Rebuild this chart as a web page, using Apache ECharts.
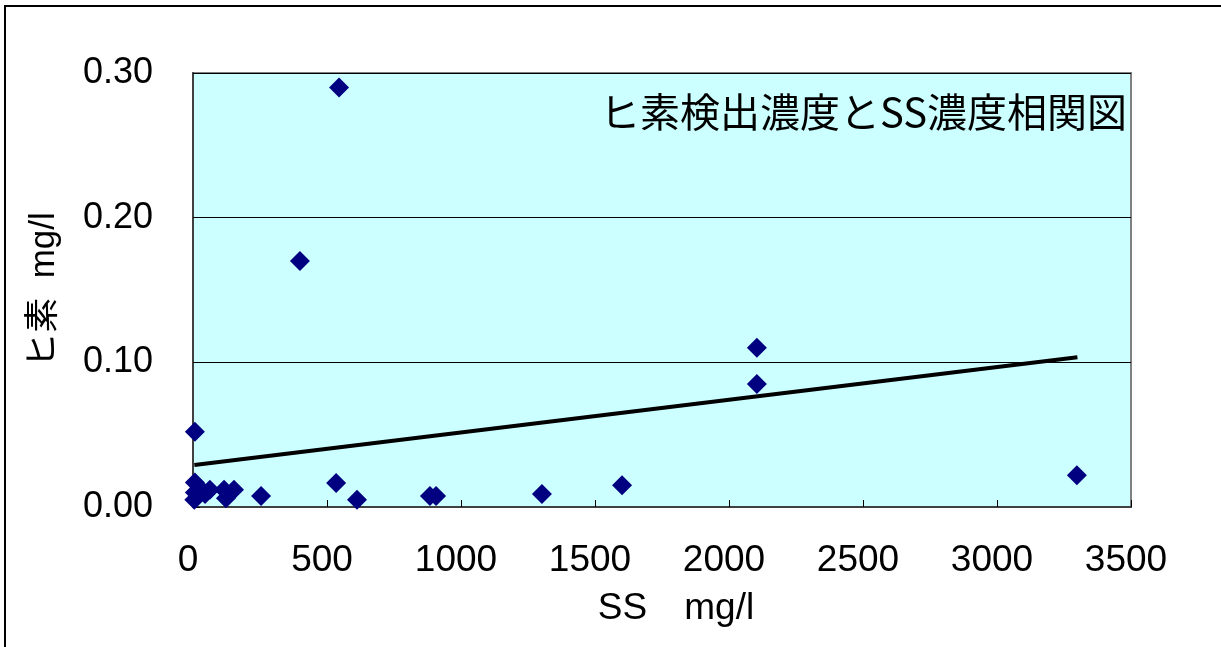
<!DOCTYPE html>
<html><head><meta charset="utf-8">
<script src="https://cdn.jsdelivr.net/npm/echarts@6/dist/echarts.min.js"></script>
<style>html,body{margin:0;padding:0;background:#fff}#c{width:1221px;height:647px}</style>
</head><body><div id="c"></div>
<script>
const ssValues = [545, 399, 2104, 2104, 7, 3298, 1601, 1302, 884, 907, 612, 534, 254, 7, 7, 5, 26, 45, 63, 116, 153, 123];
const arsenicValues = [0.290, 0.170, 0.110, 0.085, 0.052, 0.022, 0.015, 0.009, 0.0076, 0.0076, 0.005, 0.0166, 0.0076, 0.017, 0.010, 0.005, 0.013, 0.009, 0.012, 0.012, 0.012, 0.006];
const trendX = [5, 3300];
const trendY = [0.029, 0.1035];
const xTicks = [0, 500, 1000, 1500, 2000, 2500, 3000, 3500];
const yTicks = [0, 0.1, 0.2, 0.3];
const titleText = 'ヒ素検出濃度とSS濃度相関図';
const xName = 'SS　mg/l';
const yName = 'ヒ素  mg/l';

const pts = ssValues.map((x, i) => [x, arsenicValues[i]]);
const trend = trendX.map((x, i) => [x, trendY[i]]);
const font = '"Liberation Sans", Arial, "Noto Sans CJK JP", sans-serif';
const chart = echarts.init(document.getElementById('c'));
chart.setOption({
  animation: false,
  textStyle: {fontFamily: font},
  graphic: [
    {type: 'rect', shape: {x: 5, y: 6, width: 1240, height: 700}, style: {fill: 'none', stroke: '#000', lineWidth: 2}, z: 100},
    {type: 'text', right: 94, top: 92, style: {text: titleText, font: '40px "Noto Sans CJK JP", sans-serif', fill: '#000'}, z: 100}
  ],
  grid: {left: 193, right: 90, top: 73, bottom: 140, show: true, backgroundColor: '#CCFFFF', borderColor: '#808080', borderWidth: 2},
  xAxis: {
    type: 'value', min: xTicks[0], max: xTicks[xTicks.length - 1], interval: 500,
    name: xName, nameLocation: 'middle', nameGap: 83,
    nameTextStyle: {fontSize: 37, color: '#000', fontFamily: font, padding: [0, 0, 0, 28]},
    axisLine: {show: true, onZero: false, lineStyle: {color: '#404040', width: 2}},
    axisTick: {show: true, inside: true, length: 7, lineStyle: {color: '#000', width: 1}},
    axisLabel: {fontSize: 37, color: '#000', margin: 35, fontFamily: font, padding: [0, 10, 0, 0], formatter: v => String(v)},
    splitLine: {show: false}
  },
  yAxis: {
    type: 'value', min: yTicks[0], max: yTicks[yTicks.length - 1], interval: 0.1,
    name: yName, nameLocation: 'middle', nameGap: 131, nameRotate: 90,
    nameTextStyle: {fontSize: 35, color: '#000', fontFamily: font},
    axisLine: {show: true, lineStyle: {color: '#404040', width: 2}},
    axisTick: {show: true, inside: true, length: 7, lineStyle: {color: '#000', width: 1}},
    axisLabel: {fontSize: 36, color: '#000', margin: 40, fontFamily: font, formatter: v => v.toFixed(2)},
    splitLine: {show: true, lineStyle: {color: '#000', width: 1}}
  },
  series: [
    {type: 'line', data: trend, symbol: 'none', lineStyle: {color: '#000', width: 4}, z: 3},
    {type: 'scatter', data: pts, symbol: 'diamond', symbolSize: 20, itemStyle: {color: '#000080', opacity: 1}, z: 4}
  ]
});
</script></body></html>
